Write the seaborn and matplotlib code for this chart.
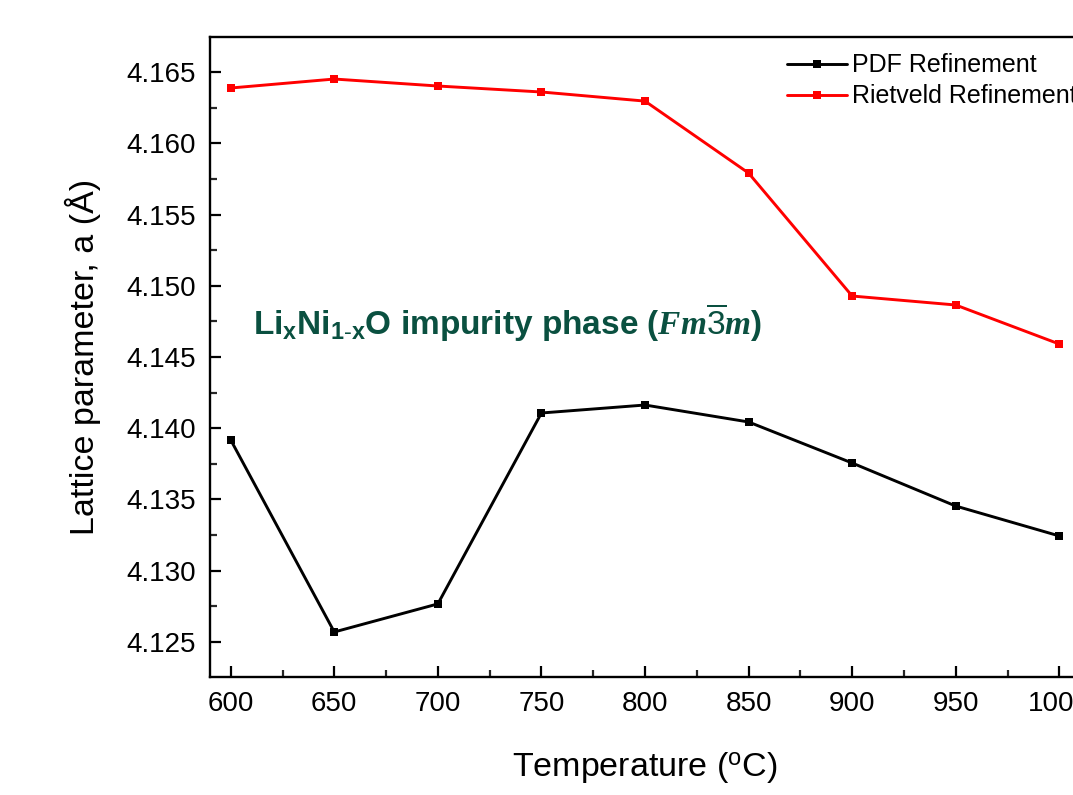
import matplotlib
matplotlib.use("Agg")
import matplotlib.pyplot as plt
from matplotlib.ticker import MultipleLocator, FormatStrFormatter
import seaborn as sns
import pandas as pd

temperature = [600, 650, 700, 750, 800, 850, 900, 950, 1000]
pdf_refinement = [4.13918, 4.12570, 4.12767, 4.14107, 4.14163, 4.14044, 4.13756, 4.13454, 4.13244]
rietveld_refinement = [4.16388, 4.16451, 4.16402, 4.16360, 4.16296, 4.15791, 4.14928, 4.14865, 4.14591]
series_names = ["PDF Refinement", "Rietveld Refinement"]
series_colors = ["#000000", "#ff0000"]

df = pd.DataFrame({
    "Temperature": temperature * 2,
    "a": pdf_refinement + rietveld_refinement,
    "Series": [series_names[0]] * len(temperature) + [series_names[1]] * len(temperature),
})

sns.set_theme(style="white")
plt.rcParams["font.family"] = ["Liberation Sans", "DejaVu Sans"]
plt.rcParams["mathtext.fontset"] = "custom"
plt.rcParams["mathtext.rm"] = "Liberation Sans"
plt.rcParams["mathtext.bf"] = "Liberation Sans:bold"
plt.rcParams["mathtext.it"] = "Liberation Serif:bold:italic"
plt.rcParams["text.color"] = "black"
plt.rcParams["axes.labelcolor"] = "black"

fig = plt.figure(figsize=(10.73, 7.95), dpi=100)
ax = fig.add_axes([210 / 1073, 118 / 795, 870 / 1073, 640 / 795])

sns.lineplot(data=df, x="Temperature", y="a", hue="Series", palette=series_colors,
             hue_order=series_names, marker="s", markersize=6, markeredgewidth=0,
             linewidth=2.1, ax=ax)

ax.set_xlim(590, 1010)
ax.set_ylim(4.12254, 4.16746)
ax.xaxis.set_major_locator(MultipleLocator(50))
ax.xaxis.set_minor_locator(MultipleLocator(25))
ax.yaxis.set_major_locator(MultipleLocator(0.005))
ax.yaxis.set_minor_locator(MultipleLocator(0.0025))
ax.yaxis.set_major_formatter(FormatStrFormatter("%.3f"))
ax.tick_params(axis="both", which="major", direction="in", length=8, width=1.6,
               labelsize=20, colors="black", pad=10, bottom=True, left=True, top=False, right=False)
ax.tick_params(axis="both", which="minor", direction="in", length=5, width=1.6,
               bottom=True, left=True, top=False, right=False)
for sp in ax.spines.values():
    sp.set_linewidth(1.7)
    sp.set_color("black")

ax.set_xlabel("Temperature ($^\\mathrm{o}$C)", fontsize=24.5, labelpad=24)
ax.set_ylabel("Lattice parameter, a (Å)", fontsize=24.5, labelpad=18)

leg = ax.legend(loc="upper left", bbox_to_anchor=(0.652, 0.99), frameon=False,
                fontsize=18, handlelength=2.4, handletextpad=0.2, borderaxespad=0,
                labelspacing=0.28)
for t in leg.get_texts():
    t.set_color("black")

ax.text(0.049, 0.553,
        r"Li$_\mathbf{x}$Ni$_\mathbf{1\text{-}x}$O impurity phase ($\mathit{Fm}\overline{3}\mathit{m}$)",
        transform=ax.transAxes, fontsize=24, fontweight="bold", color="#0a5040",
        va="center", ha="left")

fig.savefig("out.png", dpi=100)
